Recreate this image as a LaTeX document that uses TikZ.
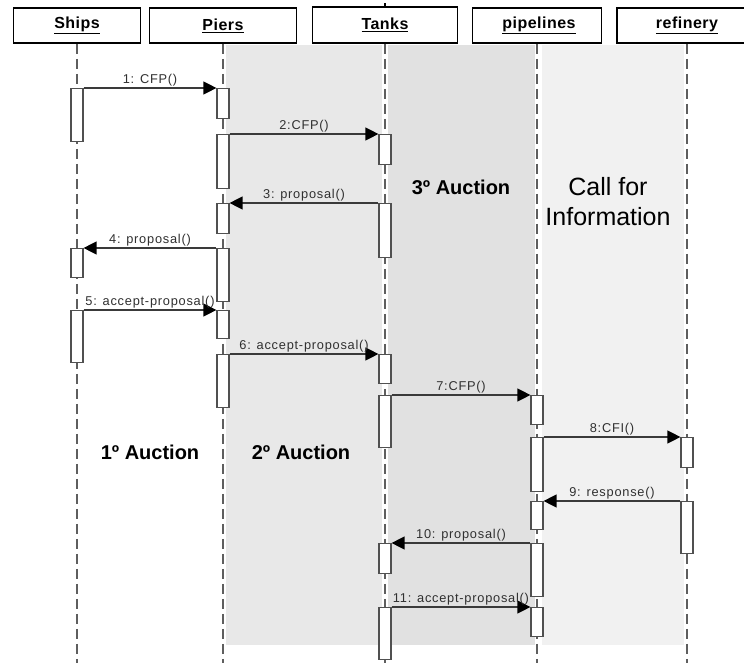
\documentclass[tikz,border=0pt]{standalone}
\usepackage{fontspec}
\setmainfont{Liberation Sans}
\newfontfamily\msgfont[LetterSpace=6]{Liberation Sans}
\newfontfamily\headfont[LetterSpace=3]{Liberation Sans}
\usepackage{tikz}
\usetikzlibrary{arrows.meta}
\definecolor{zoneA}{HTML}{E8E8E8}
\definecolor{zoneB}{HTML}{E1E1E1}
\definecolor{zoneC}{HTML}{F1F1F1}
\definecolor{lifeline}{HTML}{5E5E5E}
\definecolor{barline}{HTML}{505050}
\definecolor{msgline}{HTML}{3A3A3A}
\definecolor{msgtext}{HTML}{303030}

\begin{document}
\begin{tikzpicture}[x=1pt,y=-1pt,
  head/.style={draw=black,line width=1.8pt,fill=white,minimum height=35pt,inner sep=0pt,font=\headfont\fontsize{16}{18}\selectfont\bfseries},
  bar/.style={draw=barline,line width=1.2pt,fill=white,minimum width=12pt,inner sep=0pt,anchor=north},
  life/.style={lifeline,line width=1.6pt,dash pattern=on 10pt off 5pt},
  msg/.style={-{Triangle[length=13pt,width=13pt,color=black]},msgline,line width=1.3pt},
  txt/.style={font=\msgfont\fontsize{12.8}{15}\selectfont,text=msgtext,inner sep=1.5pt},
  zone/.style={font=\fontsize{20}{24}\selectfont\bfseries,align=center},
]
\useasboundingbox[fill=white] (0,0) rectangle (744,663);
\clip (0,0) rectangle (744,663);
% shaded auction zones
\fill[zoneA] (226,45) rectangle (382,645);
\fill[zoneB] (388,45) rectangle (535,645);
\fill[zoneC] (542,45) rectangle (684,645);
% heads
\node[head,minimum width=127pt] (ships) at (77,25.5) {\underline{Ships}\hspace{15pt}};
\node[head,minimum width=147pt] (piers) at (223,25.5) {\underline{Piers}\hspace{16pt}};
\node[head,minimum width=145pt,minimum height=36pt] (tanks) at (385,25) {\underline{Tanks}\hspace{22pt}};
\node[head,minimum width=129pt] (pipes) at (537,25.5) {\hspace{4pt}\underline{pipelines}};
\node[head,minimum width=140pt] (refinery) at (687,25.5) {\underline{refinery}\hspace{13pt}};
\draw[line width=1.5pt] (tanks.north) -- ++(0,-3);
\foreach \h in {ships,piers,tanks,pipes,refinery}
  \draw[life] (\h.south) -- (\h.south |- 0,663);
% activations
\foreach \n/\h/\ya/\yb in {s1/ships/88/141,s2/ships/248/277,s3/ships/310/362,
    p1/piers/88/118,p2/piers/134/188,p3/piers/203/233,p4/piers/248/301,p5/piers/310/338,p6/piers/354/407,
    t1/tanks/134/164,t2/tanks/203/257,t3/tanks/354/383,t4/tanks/395/447,t5/tanks/543/573,t6/tanks/607/659,
    l1/pipes/395/424,l2/pipes/437/491,l3/pipes/501/529,l4/pipes/543/596,l5/pipes/607/636,
    r1/refinery/437/467,r2/refinery/501/553}
  \node[bar,minimum height={(\yb-\ya)*1pt}] (\n) at (\h.south |- 0,\ya) {};
% messages
\foreach \a/\b/\l in {s1.north east/p1.north west/1: CFP(),
    p2.north east/t1.north west/2:CFP(),
    t2.north west/p3.north east/3: proposal(),
    p4.north west/s2.north east/4: proposal(),
    s3.north east/p5.north west/5: accept-proposal(),
    p6.north east/t3.north west/6: accept-proposal(),
    t4.north east/l1.north west/7:CFP(),
    l2.north east/r1.north west/8:CFI(),
    r2.north west/l3.north east/9: response(),
    l4.north west/t5.north east/10: proposal(),
    t6.north east/l5.north west/11: accept-proposal()}
  \draw[msg] (\a) -- (\b) node[midway,above,txt] {\l};
% zone labels
\node[zone] (auc1) at (150,452) {1º Auction};
\node[zone] (auc2) at (301,452) {2º Auction};
\node[zone] (auc3) at (461,187) {3º Auction};
\node[font=\fontsize{25}{30}\selectfont,align=center] (cfi) at (608,202) {Call for\\Information};
\end{tikzpicture}
\end{document}
